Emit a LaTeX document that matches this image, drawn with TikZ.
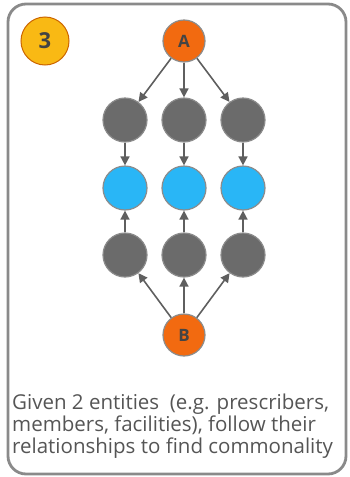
\documentclass[tikz,border=0pt]{standalone}
\usepackage{fontspec}
\setmainfont{Open Sans}
\usetikzlibrary{arrows.meta}

\definecolor{framegray}{HTML}{8A8A8A}
\definecolor{dotgray}{HTML}{6B6B6B}
\definecolor{rimgray}{HTML}{8C8C8C}
\definecolor{arrowgray}{HTML}{5F5F5F}
\definecolor{hubblue}{HTML}{29B6F6}
\definecolor{endorange}{HTML}{F26A10}
\definecolor{badgeyellow}{HTML}{F9B914}
\definecolor{txtgray}{HTML}{555555}

\tikzset{
  dot/.style={draw=rimgray,line width=1.2pt,shape=circle,minimum size=44pt,inner sep=0pt},
  mid/.style={dot,fill=dotgray},
  hub/.style={dot,fill=hubblue},
  endp/.style={dot,fill=endorange,minimum size=42pt,font=\bfseries\fontsize{17}{17}\selectfont,text=txtgray!80!black},
  link/.style={-{Triangle[length=9pt,width=9pt]},line width=1.6pt,color=arrowgray}
}

\begin{document}
\begin{tikzpicture}[x=1pt,y=-1pt]
		\useasboundingbox (0,0) rectangle (349,477);
		\draw[framegray,line width=2.8pt,rounded corners=18pt] (8,4) rectangle (346,474);
		\draw (45,41) node (badge) [draw=orange!80!black,fill=badgeyellow,line width=1pt,shape=circle,minimum size=48pt,font=\bfseries\fontsize{22}{22}\selectfont,text=txtgray!80!black] {3};
		\draw (184,41) 	node (a) [endp] {A};
		\draw (125,120) node (t1) [mid] {};
		\draw (184,120) node (t2) [mid] {};
		\draw (243,120) node (t3) [mid] {};
		\draw (125,188) node (h1) [hub] {};
		\draw (184,188) node (h2) [hub] {};
		\draw (243,188) node (h3) [hub] {};
		\draw (125,255) node (u1) [mid] {};
		\draw (184,255) node (u2) [mid] {};
		\draw (243,255) node (u3) [mid] {};
		\draw (184,335) node (b) [endp] {B};
		\draw[link] (a) -- (t1);
		\draw[link] (a) -- (t2);
		\draw[link] (a) -- (t3);
		\draw[link] (t1) -- (h1);
		\draw[link] (t2) -- (h2);
		\draw[link] (t3) -- (h3);
		\draw[link] (u1) -- (h1);
		\draw[link] (u2) -- (h2);
		\draw[link] (u3) -- (h3);
		\draw[link] (b) -- (u1);
		\draw[link] (b) -- (u2);
		\draw[link] (b) -- (u3);
		% base anchor sits on the last line
		\node (caption) [anchor=base west,align=left,inner sep=0pt,text=txtgray,font=\fontsize{20.5}{22}\selectfont] at (12,453)
			{Given 2 entities \ (e.g. prescribers,\\members, facilities), follow their\\relationships to find commonality};
	\end{tikzpicture}
\end{document}
